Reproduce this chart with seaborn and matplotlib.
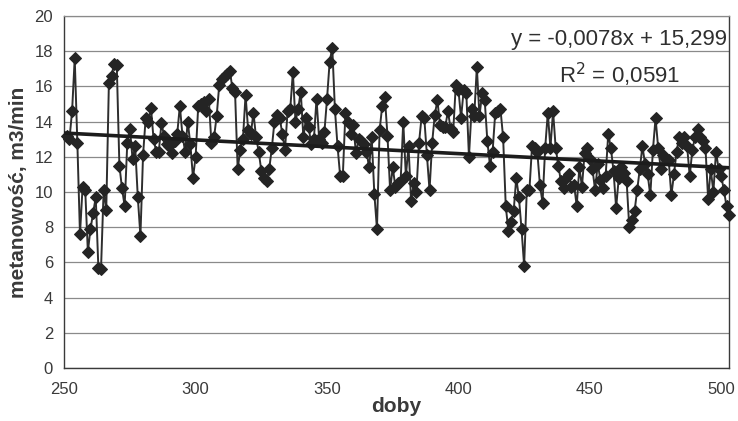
import numpy as np
import pandas as pd
import matplotlib
matplotlib.use("Agg")
import matplotlib.pyplot as plt
import seaborn as sns

# ---- data ----
first_day = 251
values_251_290 = [13.2, 13.0, 14.6, 17.6, 12.8, 7.6, 10.3, 10.1, 6.6, 7.9,
                  8.8, 9.7, 5.7, 5.6, 10.1, 9.0, 16.2, 16.6, 17.3, 17.2,
                  11.5, 10.2, 9.2, 12.8, 13.6, 11.9, 12.6, 9.7, 7.5, 12.1,
                  14.2, 14.0, 14.8, 13.0, 12.3, 12.3, 13.9, 13.2, 12.7, 12.6]
values_291_335 = [12.2, 12.9, 13.3, 14.9, 13.2, 12.3, 14.0, 12.7, 10.8, 12.0,
                  14.9, 15.0, 15.1, 14.6, 15.3, 12.8, 13.1, 14.3, 16.1, 16.4,
                  16.6, 16.7, 16.9, 15.9, 15.7, 11.3, 12.4, 13.0, 15.5, 13.5,
                  13.3, 14.5, 13.1, 12.3, 11.2, 10.8, 10.6, 11.3, 12.5, 14.0,
                  14.4, 14.2, 13.3, 12.4, 14.6]
values_336_396 = [14.7, 16.8, 14.0, 14.7, 15.7, 13.1, 14.2, 13.7, 12.7, 13.0,
                  15.3, 13.0, 12.8, 13.4, 15.3, 17.4, 18.2, 14.7, 12.6, 10.9,
                  10.9, 14.5, 14.0, 13.3, 13.8, 12.2, 13.0, 12.9, 12.7, 12.3,
                  11.4, 13.1, 9.9, 7.9, 13.5, 14.9, 15.4, 13.2, 10.1, 11.4,
                  10.3, 10.5, 10.6, 14.0, 10.9, 12.6, 9.5, 10.5, 10.0, 12.8,
                  14.3, 14.2, 12.1, 10.1, 12.8, 14.4, 15.2, 13.8, 13.7, 13.7,
                  14.6]
values_397_470 = [13.6, 13.4, 16.1, 15.8, 14.2, 15.8, 15.6, 12.0, 14.7, 14.3,
                  17.1, 14.3, 15.6, 15.2, 12.9, 11.5, 12.3, 14.5, 14.6, 14.7,
                  13.1, 9.2, 7.8, 8.3, 8.9, 10.8, 9.7, 7.9, 5.8, 10.1,
                  10.1, 12.6, 12.5, 12.3, 10.4, 9.4, 12.5, 14.5, 12.5, 14.6,
                  12.5, 11.5, 10.6, 10.2, 10.8, 11.0, 10.3, 10.4, 9.2, 11.4,
                  10.3, 12.2, 12.5, 11.9, 11.3, 10.1, 11.6, 10.7, 10.2, 10.9,
                  13.3, 12.5, 11.2, 9.1, 10.8, 11.4, 11.1, 10.6, 8.0, 8.4,
                  8.9, 10.1, 11.3, 12.6]
values_471_503 = [11.6, 11.0, 9.8, 12.4, 14.2, 12.5, 11.3, 12.1, 11.9, 11.8,
                  9.8, 11.0, 12.3, 13.1, 12.8, 13.1, 12.6, 10.9, 12.4, 13.1,
                  13.6, 13.1, 12.9, 12.5, 9.6, 11.3, 10.0, 12.3, 11.3, 10.9,
                  10.1, 9.2, 8.7]

trend_slope = -0.0078
trend_intercept = 15.299
trend_label = "y = -0,0078x + 15,299"
r2_label = "R$^2$ = 0,0591"

x_ticks = [250, 300, 350, 400, 450, 500]
y_ticks = [0, 2, 4, 6, 8, 10, 12, 14, 16, 18, 20]
x_label = "doby"
y_label = "metanowość, m3/min"

values = (values_251_290 + values_291_335 + values_336_396
          + values_397_470 + values_471_503)
days = np.arange(first_day, first_day + len(values))
df = pd.DataFrame({"doba": days, "metanowosc": values})

trend_x = np.array([250, 503])
trend_df = pd.DataFrame({"doba": trend_x,
                         "trend": trend_slope * trend_x + trend_intercept})

# ---- style ----
sns.set_style("white")
plt.rcParams["font.family"] = ["Liberation Sans", "DejaVu Sans"]

fig = plt.figure(figsize=(7.38, 4.21), dpi=100)
ax = fig.add_axes([0.087, 0.126, 0.901, 0.836])

sns.lineplot(data=df, x="doba", y="metanowosc", ax=ax, color="#2e2e2e",
             linewidth=1.4, marker="D", markersize=6.5,
             markerfacecolor="#242424", markeredgecolor="#242424",
             clip_on=False, zorder=3)
sns.lineplot(data=trend_df, x="doba", y="trend", ax=ax, color="#1c1c1c",
             linewidth=2.6, zorder=4)

ax.set_xlim(250, 503)
ax.set_ylim(0, 20)
ax.set_xticks(x_ticks)
ax.set_yticks(y_ticks)
ax.yaxis.grid(True, color="#8a8a8a", linewidth=0.9)
ax.set_axisbelow(True)

ax.tick_params(axis="both", direction="out", length=4, width=0.9,
               colors="#333333", labelsize=12, labelcolor="#3a3a3a")
ax.tick_params(axis="y", pad=4)
ax.tick_params(axis="x", pad=6)

for side in ["left", "bottom", "right"]:
    ax.spines[side].set_visible(True)
    ax.spines[side].set_color("#3a3a3a")
    ax.spines[side].set_linewidth(1.0)
ax.spines["top"].set_visible(True)
ax.spines["top"].set_color("#8a8a8a")
ax.spines["top"].set_linewidth(0.9)

ax.set_xlabel(x_label, fontsize=15, fontweight="bold", color="#3a3a3a",
              labelpad=0)
ax.set_ylabel(y_label, fontsize=15, fontweight="bold", color="#3a3a3a",
              labelpad=5)

ax.text(0.997, 0.932, trend_label, transform=ax.transAxes, ha="right",
        va="center", fontsize=16, color="#2f2f2f")
ax.text(0.926, 0.832, r2_label, transform=ax.transAxes, ha="right",
        va="center", fontsize=16, color="#2f2f2f")

fig.savefig("out.png", dpi=100, facecolor="white")
